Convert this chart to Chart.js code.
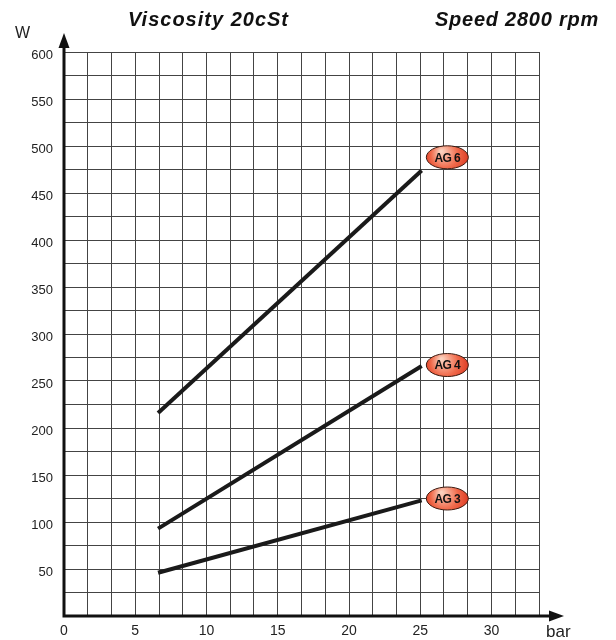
<!DOCTYPE html>
<html lang="en">
<head>
    <meta charset="UTF-8">
    <title>Power absorbed - AG pumps</title>
    <script src="https://cdn.jsdelivr.net/npm/chart.js"></script>
    <style>
        body {
            margin: 0;
            background: #fff;
            font-family: "Liberation Sans", Arial, sans-serif;
        }
        #chartContainer {
            width: 616px;
            height: 640px;
        }
    </style>
</head>
<body>
    <div id="chartContainer">
        <canvas id="powerChart"></canvas>
    </div>

    <script>
        // pressure (bar) at the two ends of each line
        const pressure = [6.6, 25.1];
        // absorbed power (W)
        const ag3 = [46, 123];
        const ag4 = [93, 266];
        const ag6 = [216, 474];
        const seriesNames = ['AG 3', 'AG 4', 'AG 6'];
        // where the name badges sit (bar, W)
        const badgeX = [26.9, 26.9, 26.9];
        const badgeY = [125, 267, 488];

        const xTickLabels = ['0', '5', '10', '15', '20', '25', '30'];
        const yTickLabels = ['50', '100', '150', '200', '250', '300', '350', '400', '450', '500', '550', '600'];
        const titleLeft = 'Viscosity 20cSt';
        const titleRight = 'Speed 2800 rpm';

        const FONT = '"Liberation Sans", Arial, sans-serif';

        function toPoints(ys) {
            return pressure.map((x, i) => ({ x: x, y: ys[i] }));
        }

        // axes with arrows, titles, unit labels and the red badges
        const decorPlugin = {
            id: 'decor',
            afterDatasetsDraw(chart) {
                const ctx = chart.ctx;
                const a = chart.chartArea;
                const xs = chart.scales.x, ys = chart.scales.y;
                ctx.save();

                // axis lines
                ctx.strokeStyle = '#111';
                ctx.fillStyle = '#111';
                ctx.lineWidth = 3;
                ctx.beginPath();
                ctx.moveTo(a.left, a.bottom + 1.5);
                ctx.lineTo(a.left, 46);
                ctx.moveTo(a.left - 1.5, a.bottom);
                ctx.lineTo(552, a.bottom);
                ctx.stroke();
                // arrow heads
                ctx.beginPath();
                ctx.moveTo(a.left, 33);
                ctx.lineTo(a.left - 5.5, 48);
                ctx.lineTo(a.left + 5.5, 48);
                ctx.closePath();
                ctx.fill();
                ctx.beginPath();
                ctx.moveTo(564, a.bottom);
                ctx.lineTo(549, a.bottom - 5.5);
                ctx.lineTo(549, a.bottom + 5.5);
                ctx.closePath();
                ctx.fill();

                // unit labels
                ctx.fillStyle = '#222';
                ctx.textBaseline = 'alphabetic';
                ctx.textAlign = 'left';
                ctx.font = '16px ' + FONT;
                ctx.fillText('W', 15, 38);
                ctx.font = '17px ' + FONT;
                ctx.fillText('bar', 546, 637);

                // titles
                ctx.fillStyle = '#111';
                ctx.font = 'italic bold 20px ' + FONT;
                ctx.letterSpacing = '1px';
                ctx.fillText(titleLeft, 128, 26);
                ctx.letterSpacing = '0.75px';
                ctx.fillText(titleRight, 435, 26);
                ctx.letterSpacing = '0px';

                // badges
                seriesNames.forEach((name, i) => {
                    const cx = xs.getPixelForValue(badgeX[i]);
                    const cy = ys.getPixelForValue(badgeY[i]);
                    const g = ctx.createRadialGradient(cx - 6, cy - 6, 1, cx, cy, 24);
                    g.addColorStop(0, '#fbd2bf');
                    g.addColorStop(0.55, '#f0694a');
                    g.addColorStop(1, '#d8301a');
                    ctx.beginPath();
                    ctx.ellipse(cx, cy, 21, 11.5, 0, 0, Math.PI * 2);
                    ctx.fillStyle = g;
                    ctx.fill();
                    ctx.lineWidth = 1;
                    ctx.strokeStyle = '#3a1a10';
                    ctx.stroke();
                    ctx.fillStyle = '#111';
                    ctx.font = 'bold 12px ' + FONT;
                    ctx.letterSpacing = '-0.6px';
                    ctx.textAlign = 'center';
                    ctx.textBaseline = 'middle';
                    ctx.fillText(name, cx, cy + 1);
                    ctx.letterSpacing = '0px';
                });
                ctx.restore();
            }
        };

        const lineStyle = {
            borderColor: '#1a1a1a',
            borderWidth: 4,
            pointRadius: 0,
            fill: false,
            tension: 0,
            borderCapStyle: 'butt'
        };

        new Chart(document.getElementById('powerChart'), {
            type: 'scatter',
            data: {
                datasets: [
                    { label: seriesNames[0], data: toPoints(ag3), showLine: true, ...lineStyle },
                    { label: seriesNames[1], data: toPoints(ag4), showLine: true, ...lineStyle },
                    { label: seriesNames[2], data: toPoints(ag6), showLine: true, ...lineStyle }
                ]
            },
            options: {
                responsive: true,
                maintainAspectRatio: false,
                animation: false,
                layout: { padding: { top: 52, right: 77, left: 0, bottom: 0 } },
                plugins: {
                    legend: { display: false },
                    tooltip: { enabled: false }
                },
                scales: {
                    x: {
                        type: 'linear',
                        min: 0,
                        max: 100 / 3,
                        afterFit: s => { s.height = 24; },
                        border: { display: false },
                        grid: { color: '#444', lineWidth: 1, drawTicks: false },
                        ticks: {
                            stepSize: 5 / 3,
                            autoSkip: false,
                            maxRotation: 0,
                            padding: 7,
                            color: '#222',
                            font: { family: FONT, size: 14 },
                            callback: (v, i) => (i % 3 === 0 && xTickLabels[i / 3] !== undefined) ? xTickLabels[i / 3] : ''
                        }
                    },
                    y: {
                        min: 0,
                        max: 600,
                        afterFit: s => { s.width = 64; },
                        border: { display: false },
                        grid: { color: '#444', lineWidth: 1, drawTicks: false },
                        ticks: {
                            stepSize: 25,
                            autoSkip: false,
                            padding: 11,
                            labelOffset: 3,
                            color: '#222',
                            font: { family: FONT, size: 13 },
                            callback: (v, i) => (i > 0 && i % 2 === 0) ? yTickLabels[i / 2 - 1] : ''
                        }
                    }
                }
            },
            plugins: [decorPlugin]
        });
    </script>
</body>
</html>
